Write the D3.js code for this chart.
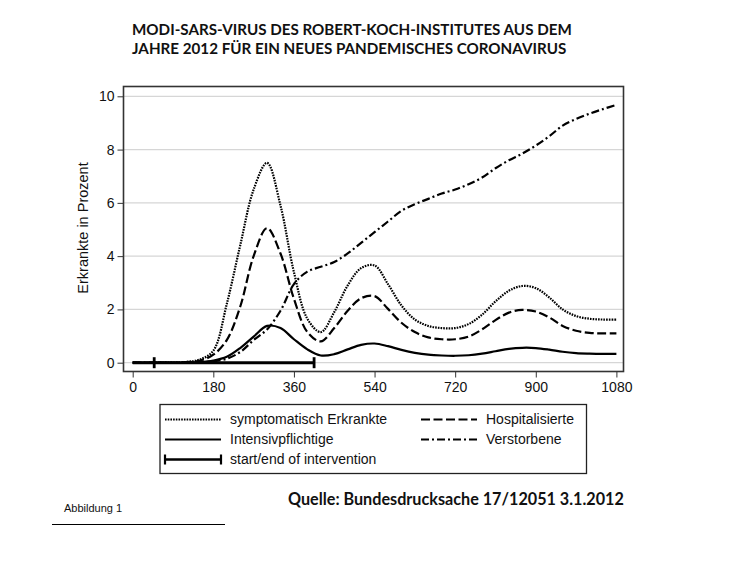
<!DOCTYPE html>
<html>
<head>
<meta charset="utf-8">
<script src="https://cdn.jsdelivr.net/npm/d3@7"></script>
<style>
  body { margin: 0; background: #fff; }
  svg { display: block; }
</style>
</head>
<body>
<svg id="chart" width="738" height="563"></svg>
<script>
// ---------- data ----------
const titleLines = [
  "MODI-SARS-VIRUS DES ROBERT-KOCH-INSTITUTES AUS DEM",
  "JAHRE 2012 FÜR EIN NEUES PANDEMISCHES CORONAVIRUS"
];
const yAxisTitle = "Erkrankte in Prozent";
const xTicks = [0, 180, 360, 540, 720, 900, 1080];
const yTicks = [0, 2, 4, 6, 8, 10];
const sourceText = "Quelle: Bundesdrucksache 17/12051 3.1.2012";
const figureText = "Abbildung 1";

const days = [0, 60, 120, 150, 180, 210, 240, 270, 300, 330, 360, 390, 420, 450, 480, 510, 540, 570, 600, 630, 660, 690, 720, 750, 780, 810, 840, 870, 900, 930, 960, 990, 1020, 1050, 1080];
const symptomatisch = [0, 0, 0.03, 0.12, 0.45, 2.2, 4.4, 6.5, 7.5, 5.9, 3.4, 1.65, 1.15, 1.9, 2.9, 3.55, 3.65, 2.95, 2.15, 1.62, 1.38, 1.3, 1.3, 1.45, 1.8, 2.3, 2.7, 2.88, 2.8, 2.45, 2.0, 1.75, 1.65, 1.62, 1.62];
const hospitalisiert = [0, 0, 0.02, 0.08, 0.3, 0.85, 2.1, 4.0, 5.05, 4.1, 2.4, 1.15, 0.8, 1.3, 1.95, 2.42, 2.5, 2.02, 1.5, 1.15, 0.95, 0.88, 0.88, 0.98, 1.25, 1.6, 1.88, 1.98, 1.92, 1.7, 1.38, 1.2, 1.12, 1.1, 1.1];
const intensiv = [0, 0, 0, 0.02, 0.08, 0.22, 0.55, 0.98, 1.38, 1.3, 0.88, 0.5, 0.27, 0.32, 0.5, 0.67, 0.72, 0.62, 0.48, 0.37, 0.3, 0.27, 0.26, 0.28, 0.34, 0.43, 0.52, 0.56, 0.55, 0.49, 0.41, 0.36, 0.34, 0.33, 0.33];
const verstorben = [0, 0, 0, 0.01, 0.05, 0.15, 0.4, 0.85, 1.25, 1.95, 2.95, 3.42, 3.6, 3.78, 4.1, 4.5, 4.9, 5.3, 5.7, 5.95, 6.15, 6.35, 6.5, 6.7, 6.95, 7.3, 7.6, 7.85, 8.15, 8.5, 8.9, 9.15, 9.35, 9.52, 9.68];
const intervention = [48, 405];

const seriesNames = ["symptomatisch Erkrankte", "Hospitalisierte", "Intensivpflichtige", "Verstorbene"];
const seriesValues = [symptomatisch, hospitalisiert, intensiv, verstorben];
const seriesDash = ["1.6,1.1", "9,3.5", null, "8,3,2,3"];
const interventionLabel = "start/end of intervention";

// ---------- layout ----------
const svg = d3.select("#chart");
const frame = { left: 123.5, right: 623.5, top: 86.5, bottom: 371.5 };
const x = d3.scaleLinear().domain([0, 1080]).range([132.7, 616.4]);
const y = d3.scaleLinear().domain([0, 10]).range([362.7, 96.3]);
const axisFont = "'Liberation Sans', Arial, sans-serif";
const titleFont = "Lato, 'Open Sans', sans-serif";

function fitText(sel, target) {
  const w = sel.node().getComputedTextLength();
  const fs = parseFloat(sel.attr("font-size"));
  sel.attr("font-size", (fs * target / w).toFixed(2));
}

// title
const t1 = svg.append("text").attr("x", 132).attr("y", 35).attr("font-family", titleFont)
  .attr("font-weight", 700).attr("font-size", 12).attr("fill", "#111").text(titleLines[0]);
fitText(t1, 440);
const t2 = svg.append("text").attr("x", 132).attr("y", 54).attr("font-family", titleFont)
  .attr("font-weight", 700).attr("font-size", t1.attr("font-size")).attr("fill", "#111").text(titleLines[1]);

// gridlines
svg.append("g").selectAll("line").data(yTicks).join("line")
  .attr("x1", frame.left).attr("x2", frame.right)
  .attr("y1", d => y(d)).attr("y2", d => y(d))
  .attr("stroke", "#d6d6d6").attr("stroke-width", 1.2);

// y axis
const yAxis = d3.axisLeft(y).tickValues(yTicks).tickSize(6).tickPadding(3).tickFormat(d3.format("d"));
const gy = svg.append("g").attr("transform", `translate(${frame.left},0)`).call(yAxis);
gy.select(".domain").remove();
gy.selectAll(".tick line").attr("stroke", "#333");
gy.selectAll("text").attr("font-family", axisFont).attr("font-size", 14).attr("fill", "#111");

// x axis
const xAxis = d3.axisBottom(x).tickValues(xTicks).tickSize(6).tickPadding(5).tickFormat(d3.format("d"));
const gx = svg.append("g").attr("transform", `translate(0,${frame.bottom})`).call(xAxis);
gx.select(".domain").remove();
gx.selectAll(".tick line").attr("stroke", "#333");
gx.selectAll("text").attr("font-family", axisFont).attr("font-size", 14).attr("fill", "#111");

// frame
svg.append("rect").attr("x", frame.left).attr("y", frame.top)
  .attr("width", frame.right - frame.left).attr("height", frame.bottom - frame.top)
  .attr("fill", "none").attr("stroke", "#333").attr("stroke-width", 1.6);

// y title
svg.append("text").attr("transform", `translate(88,228) rotate(-90)`)
  .attr("text-anchor", "middle").attr("font-family", axisFont).attr("font-size", 14.5)
  .attr("fill", "#111").text(yAxisTitle);

// series
const line = d3.line().x(d => x(d[0])).y(d => y(Math.max(0, d[1]))).curve(d3.curveCatmullRom.alpha(0.5));
seriesValues.forEach((vals, i) => {
  const pts = days.map((d, j) => [d, vals[j]]);
  svg.append("path").datum(pts).attr("d", line)
    .attr("fill", "none").attr("stroke", "#000")
    .attr("stroke-width", 2.2)
    .attr("stroke-dasharray", seriesDash[i]);
});

// intervention bar
const ig = svg.append("g");
ig.append("line").attr("x1", x(0)).attr("x2", x(intervention[1]))
  .attr("y1", y(0)).attr("y2", y(0)).attr("stroke", "#000").attr("stroke-width", 3);
ig.selectAll("line.cap").data(intervention).join("line").attr("class", "cap")
  .attr("x1", d => x(d)).attr("x2", d => x(d))
  .attr("y1", y(0) - 5.5).attr("y2", y(0) + 5.5)
  .attr("stroke", "#000").attr("stroke-width", 2.8);

// legend
const lg = svg.append("g");
lg.append("rect").attr("x", 160).attr("y", 404.5).attr("width", 426.5).attr("height", 69)
  .attr("fill", "#fff").attr("stroke", "#222").attr("stroke-width", 1.3);
const legendItems = [
  { name: seriesNames[0], dash: seriesDash[0], x: 165, y: 419.5 },
  { name: seriesNames[1], dash: seriesDash[1], x: 421, y: 419.5 },
  { name: seriesNames[2], dash: seriesDash[2], x: 165, y: 439.5 },
  { name: seriesNames[3], dash: seriesDash[3], x: 421, y: 439.5 }
];
legendItems.forEach(it => {
  lg.append("line").attr("x1", it.x).attr("x2", it.x + 56).attr("y1", it.y).attr("y2", it.y)
    .attr("stroke", "#000").attr("stroke-width", 2).attr("stroke-dasharray", it.dash);
  lg.append("text").attr("x", it.x + 65).attr("y", it.y).attr("dy", "0.35em")
    .attr("font-family", axisFont).attr("font-size", 14).attr("fill", "#111").text(it.name);
});
lg.append("line").attr("x1", 165).attr("x2", 221).attr("y1", 459.5).attr("y2", 459.5)
  .attr("stroke", "#000").attr("stroke-width", 2.6);
[165, 221].forEach(cx => lg.append("line").attr("x1", cx).attr("x2", cx)
  .attr("y1", 454.5).attr("y2", 464.5).attr("stroke", "#000").attr("stroke-width", 2.2));
lg.append("text").attr("x", 230).attr("y", 459.5).attr("dy", "0.35em")
  .attr("font-family", axisFont).attr("font-size", 14).attr("fill", "#111").text(interventionLabel);

// source + figure note
const src = svg.append("text").attr("x", 288).attr("y", 505).attr("font-family", titleFont)
  .attr("font-weight", 700).attr("font-size", 14).attr("fill", "#111").text(sourceText);
fitText(src, 336);
svg.append("text").attr("x", 64).attr("y", 511.5).attr("font-family", axisFont)
  .attr("font-size", 11).attr("fill", "#111").text(figureText);
svg.append("line").attr("x1", 52).attr("x2", 225).attr("y1", 524.5).attr("y2", 524.5)
  .attr("stroke", "#000").attr("stroke-width", 1);
</script>
</body>
</html>
